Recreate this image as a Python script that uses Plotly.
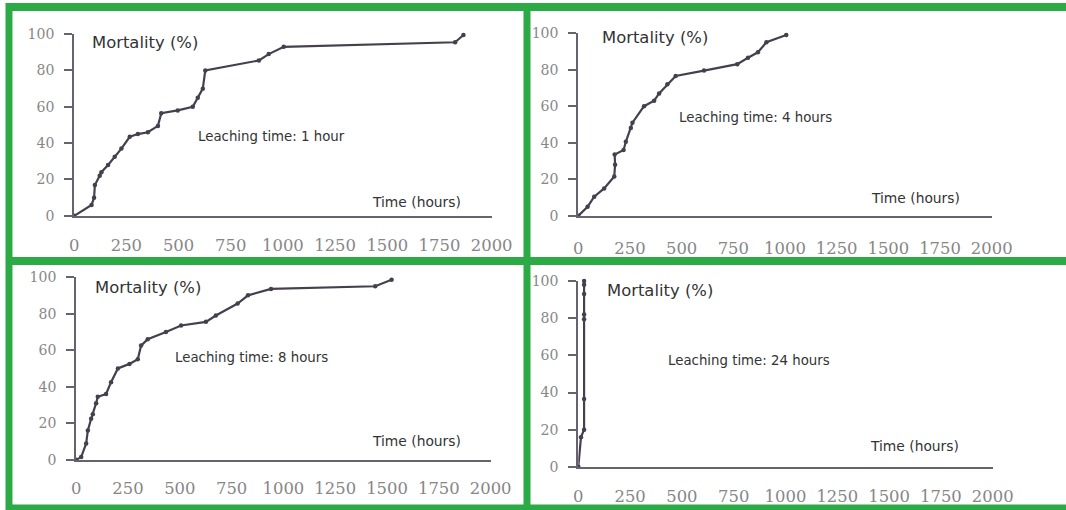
import plotly.graph_objects as go

# ---------------- data ----------------
x_ticks = [0, 250, 500, 750, 1000, 1250, 1500, 1750, 2000]
y_ticks = [0, 20, 40, 60, 80, 100]

leach_labels = ["Leaching time: 1 hour", "Leaching time: 4 hours",
                "Leaching time: 8 hours", "Leaching time: 24 hours"]

h1_hours = [0, 83, 95, 99, 122, 130, 162, 194, 226, 266, 305, 353, 401, 417,
            496, 568, 592, 616, 628, 885, 932, 1004, 1825, 1865]
h1_mort = [0, 6, 10, 17, 22, 24, 28, 32.5, 37, 43.5, 45, 46, 49.5, 56.5,
           58, 60, 65, 70, 80, 85.5, 89, 93, 95.5, 99.5]

h4_hours = [0, 45, 77, 125, 174, 178, 176, 219, 230, 254, 262, 318, 367, 391,
            431, 471, 608, 769, 821, 869, 910, 1006]
h4_mort = [0, 5, 10.5, 15, 21.5, 28, 33.5, 36, 40.5, 48, 51, 60, 63, 67,
           72, 76.5, 79.5, 83, 86.5, 89.5, 95, 99]

h8_hours = [0, 24, 48, 56, 72, 80, 96, 104, 144, 168, 201, 257, 297, 313,
            345, 433, 506, 626, 674, 779, 829, 940, 1443, 1522]
h8_mort = [0, 1.5, 9, 16, 22.5, 25, 31, 34.5, 36, 42.5, 50, 52.5, 55, 62.5,
           66, 70, 73.5, 75.5, 79, 85.5, 90, 93.5, 95, 98.5]

h24_hours = [0, 13, 28, 28, 28, 28, 28, 28, 28]
h24_mort = [0, 16, 20, 36.5, 79.5, 82, 93, 98, 100]

series = [(h1_hours, h1_mort), (h4_hours, h4_mort),
          (h8_hours, h8_mort), (h24_hours, h24_mort)]

# ---------------- layout geometry (target pixels in the picture) ----------------
W, H = 1066, 510
# measured placement of the figure's paper area inside the photographed picture
PX0, PW = 4.5, 1044.0
PY0, PH = 9.0, 492.0
SC = 0.975  # picture pixels per CSS pixel (average)

fx = lambda px: (px - PX0) / PW
fy = lambda py: 1 - (py - PY0) / PH
fs = lambda s: s / SC

# (x of 0 h, x of 2000 h, y of 0 %, y of 100 %)
panels_px = [(74, 493, 216, 35), (580, 995, 216, 34),
             (76, 492, 459, 277), (580, 996, 466, 281)]
x_standoff = [13, 16, 12, 13]
mort_pos = [(90, 43), (602, 38), (93, 287), (607, 290)]
leach_pos = [(272, 137), (758, 118), (252, 357), (751, 360)]
time_pos = [(418, 202), (919, 198), (418, 440), (917, 445)]

LINE_C = "#46404e"
AXIS_C = "#67626f"
TICK_C = "#878787"
TEXT_C = "#333333"
GREEN = "#2caa45"

fig = go.Figure()
layout = dict(width=W, height=H, autosize=False,
              margin=dict(l=0, r=0, t=0, b=0, pad=0),
              paper_bgcolor="white", plot_bgcolor="white",
              showlegend=False)

annotations = []
for i, ((xs, ys), (x0, x1, y0, y1)) in enumerate(zip(series, panels_px)):
    n = "" if i == 0 else str(i + 1)
    fig.add_trace(go.Scatter(x=xs, y=ys, mode="lines+markers",
                             line=dict(color=LINE_C, width=2.2),
                             marker=dict(color=LINE_C, size=4.5),
                             xaxis="x" + n, yaxis="y" + n, cliponaxis=False))
    layout["xaxis" + n] = dict(domain=[fx(x0), fx(x1)], range=[0, 2000],
                               anchor="y" + n, tickvals=x_ticks,
                               showgrid=False, zeroline=False,
                               showline=True, linecolor=AXIS_C, linewidth=2,
                               ticks="", ticklabelstandoff=x_standoff[i],
                               tickfont=dict(family="DejaVu Serif",
                                             size=fs(16), color=TICK_C))
    layout["yaxis" + n] = dict(domain=[fy(y0), fy(y1)], range=[0, 100],
                               anchor="x" + n, tickvals=y_ticks,
                               showgrid=False, zeroline=False,
                               showline=True, linecolor=AXIS_C, linewidth=2,
                               ticks="outside", ticklen=8, tickwidth=1.5,
                               tickcolor=AXIS_C, ticklabelstandoff=7,
                               tickfont=dict(family="DejaVu Serif",
                                             size=fs(13.7), color=TICK_C))
    mx, my = mort_pos[i]
    annotations.append(dict(text="Mortality (%)", x=fx(mx), y=fy(my),
                            xref="paper", yref="paper", xanchor="left",
                            yanchor="middle", showarrow=False,
                            font=dict(family="DejaVu Sans", size=fs(16),
                                      color=TEXT_C)))
    lx, ly = leach_pos[i]
    annotations.append(dict(text=leach_labels[i], x=fx(lx), y=fy(ly),
                            xref="paper", yref="paper", xanchor="center",
                            yanchor="middle", showarrow=False,
                            font=dict(family="DejaVu Sans", size=fs(13),
                                      color=TEXT_C)))
    tx, ty = time_pos[i]
    annotations.append(dict(text="Time (hours)", x=fx(tx), y=fy(ty),
                            xref="paper", yref="paper", xanchor="center",
                            yanchor="middle", showarrow=False,
                            font=dict(family="DejaVu Sans", size=fs(13.5),
                                      color=TEXT_C)))

layout["annotations"] = annotations

# green frames (target picture pixels; no frame on the far right)
frame_lines = [
    (8.5, 8, 1075, 8, 8),           # top
    (8.5, 4, 8.5, 515, 7),          # left
    (528.5, 4, 528.5, 515, 7),      # middle divider
    (8.5, 261, 1075, 261, 8),       # horizontal divider
    (8.5, 507, 1075, 507, 7),       # bottom
]
layout["shapes"] = [dict(type="line", xref="paper", yref="paper",
                         x0=fx(ax), y0=fy(ay), x1=fx(bx), y1=fy(by),
                         line=dict(color=GREEN, width=w), layer="above")
                    for (ax, ay, bx, by, w) in frame_lines]

fig.update_layout(**layout)

page_fix = (
    "var s=document.createElement('style');"
    "s.textContent='html,body{margin:0;padding:0;overflow:hidden;"
    "width:1066px;height:510px;}';"
    "document.head.appendChild(s);"
)
fig.write_html("out.html", config={"displayModeBar": False},
               post_script=page_fix)
